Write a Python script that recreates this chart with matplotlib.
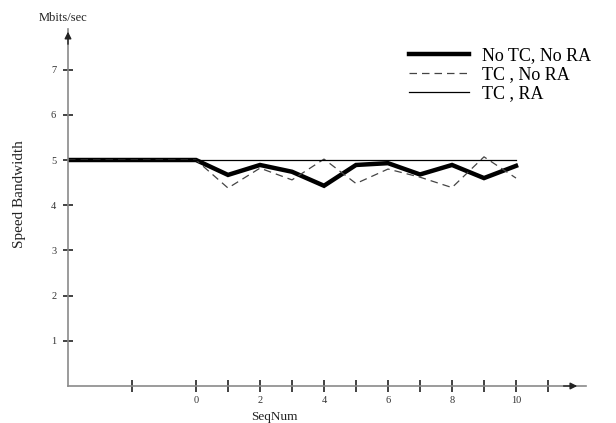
import matplotlib
matplotlib.use("Agg")
import matplotlib.pyplot as plt

seq = [-4, 0, 1, 2, 3, 4, 5, 6, 7, 8, 9, 10]
no_tc_no_ra = [5, 5, 4.67, 4.89, 4.74, 4.43, 4.89, 4.93, 4.68, 4.89, 4.60, 4.87]
tc_no_ra = [5, 5, 4.38, 4.82, 4.56, 5.02, 4.48, 4.80, 4.62, 4.39, 5.07, 4.60]
tc_ra = [5, 5, 5, 5, 5, 5, 5, 5, 5, 5, 5, 5]
series_labels = ["No TC, No RA", "TC , No RA", "TC , RA"]
x_ticks = [-2, 0, 1, 2, 3, 4, 5, 6, 7, 8, 9, 10, 11]
x_tick_labels = ["", "0", "", "2", "", "4", "", "6", "", "8", "", "10", ""]
y_ticks = [1, 2, 3, 4, 5, 6, 7]

plt.rcParams['font.family'] = ['Liberation Serif', 'DejaVu Serif']

W, H = 616, 423
fig = plt.figure(figsize=(W / 100, H / 100), dpi=100)
x0, x1 = -4, 12.2
y0, y1 = 0, 7.9
left_px, bottom_px = 68, 386
right_px = left_px + (x1 - x0) * 32
top_px = bottom_px - (y1 - y0) * 45.2
ax = fig.add_axes([left_px / W, 1 - bottom_px / H, (right_px - left_px) / W, (bottom_px - top_px) / H])
ax.set_xlim(x0, x1)
ax.set_ylim(y0, y1)
for s in ['top', 'right']:
    ax.spines[s].set_visible(False)
for s in ['left', 'bottom']:
    ax.spines[s].set_color('#8a8a8a')
    ax.spines[s].set_linewidth(1.2)

l1, = ax.plot(seq, no_tc_no_ra, color='black', lw=3.2, solid_joinstyle='miter')
l2, = ax.plot(seq, tc_no_ra, color='#444444', lw=0.9, dashes=(6, 4))
l3, = ax.plot(seq, tc_ra, color='black', lw=0.9)

ax.set_xticks(x_ticks)
ax.set_xticklabels(x_tick_labels)
ax.set_yticks(y_ticks)
ax.tick_params(axis='x', direction='inout', length=9, width=1.2, color='#222222', labelsize=7.5, pad=3, labelcolor='#333333')
ax.tick_params(axis='y', direction='inout', length=7, width=1.2, color='#222222', labelsize=7.5, pad=5, labelcolor='#333333')

# arrowheads
ax.annotate('', xy=(12.0, 0), xytext=(11.4, 0), annotation_clip=False,
            arrowprops=dict(arrowstyle='-|>', color='#222222', lw=1.0, mutation_scale=10))
ax.annotate('', xy=(-4, 7.9), xytext=(-4, 7.5), annotation_clip=False,
            arrowprops=dict(arrowstyle='-|>', color='#222222', lw=1.0, mutation_scale=10))

fig.text(63 / W, 1 - 18 / H, "Mbits/sec", ha='center', va='center', fontsize=9, color='#222222')
fig.text(274 / W, 1 - 417 / H, "SeqNum", ha='center', va='center', fontsize=9.5, color='#222222')
fig.text(20 / W, 1 - 194 / H, "Speed Bandwidth", ha='center', va='center', rotation=90, fontsize=11, color='#222222')

leg = fig.legend([l1, l2, l3], series_labels, loc='upper left', bbox_to_anchor=(409 / W, 1 - 47 / H),
                 frameon=False, fontsize=13, handlelength=3.3, labelspacing=0.12, handletextpad=0.72,
                 borderpad=0, borderaxespad=0)

fig.savefig("out.png", dpi=100)
